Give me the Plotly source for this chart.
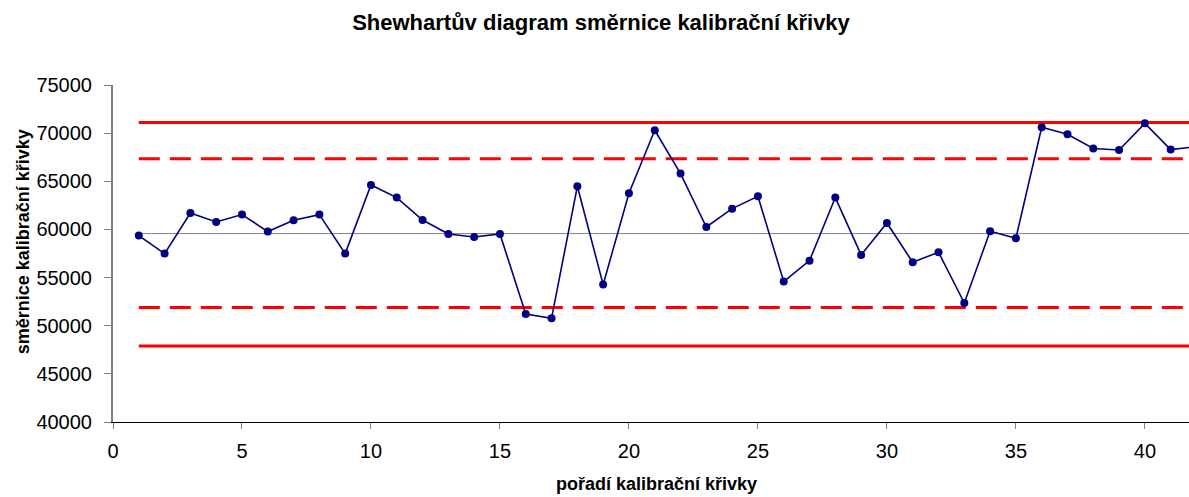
import plotly.graph_objects as go

# Data
poradi = list(range(1, 43))
smernice = [59360, 57490, 61710, 60770, 61540, 59780, 60950, 61540, 57490, 64620,
            63310, 60980, 59530, 59220, 59530, 51220, 50770, 64480, 54270, 63750,
            70300, 65800, 60250, 62160, 63440, 54580, 56760, 63310, 57350, 60670,
            56590, 57630, 52360, 59810, 59080, 70610, 69880, 68400, 68250, 71020,
            68290, 68590]

# Control limits
limit_x = [1, 42]
center_line = 59570
ucl = 71100
uwl = 67350
lwl = 51880
lcl = 47890

x_ticks = [0, 5, 10, 15, 20, 25, 30, 35, 40]
y_ticks = [40000, 45000, 50000, 55000, 60000, 65000, 70000, 75000]

FONT = "Liberation Sans, Arial, sans-serif"

fig = go.Figure()

fig.add_trace(go.Scatter(x=limit_x, y=[center_line] * 2, mode="lines",
                         line=dict(color="#7f7fa3", width=1), hoverinfo="skip"))
for val, dash in [(ucl, "solid"), (lcl, "solid"), (uwl, "21px,10px"), (lwl, "21px,10px")]:
    fig.add_trace(go.Scatter(x=limit_x, y=[val] * 2, mode="lines",
                             line=dict(color="#ff0000", width=3, dash=dash), hoverinfo="skip"))

fig.add_trace(go.Scatter(x=poradi, y=smernice, mode="lines+markers",
                         line=dict(color="#000080", width=1.6),
                         marker=dict(color="#000080", size=8),
                         cliponaxis=True))

fig.update_layout(
    width=1189, height=497,
    margin=dict(l=113, r=0, t=85, b=75),
    paper_bgcolor="white", plot_bgcolor="white",
    showlegend=False,
    font=dict(family=FONT, color="black"),
    title=dict(text="<b>Shewhartův diagram směrnice kalibrační křivky</b>",
               font=dict(family=FONT, size=22, color="black"),
               xref="container", x=601 / 1189, xanchor="center",
               yref="container", y=1 - 15 / 497, yanchor="top"),
    xaxis=dict(range=[0, 41.71], tickvals=x_ticks, showgrid=False, zeroline=False,
               showline=True, linecolor="black", linewidth=1,
               ticks="outside", ticklen=6, tickcolor="#808080",
               tickfont=dict(size=20, family=FONT, color="black"),
               ticklabelstandoff=5),
    yaxis=dict(range=[40000, 75000], tickvals=y_ticks, tickformat="d",
               showgrid=False, zeroline=False,
               showline=True, linecolor="#808080", linewidth=2,
               ticks="outside", ticklen=7, tickcolor="#808080",
               tickfont=dict(size=20, family=FONT, color="black"),
               ticklabelstandoff=8),
    annotations=[
        dict(text="<b>směrnice kalibrační křivky</b>", textangle=-90,
             xref="paper", yref="paper", x=(23 - 113) / 1076, y=(421.7 - 242) / 337,
             xanchor="center", yanchor="middle", showarrow=False,
             font=dict(family=FONT, size=18, color="black")),
        dict(text="<b>pořadí kalibrační křivky</b>",
             xref="paper", yref="paper", x=(656 - 113) / 1076, y=(421.7 - 472) / 337,
             xanchor="center", yanchor="top", showarrow=False,
             font=dict(family=FONT, size=18, color="black")),
    ],
)

fig.write_html("out.html", config={"displayModeBar": False},
               post_script="document.body.style.margin='0';document.body.style.overflow='hidden';")
